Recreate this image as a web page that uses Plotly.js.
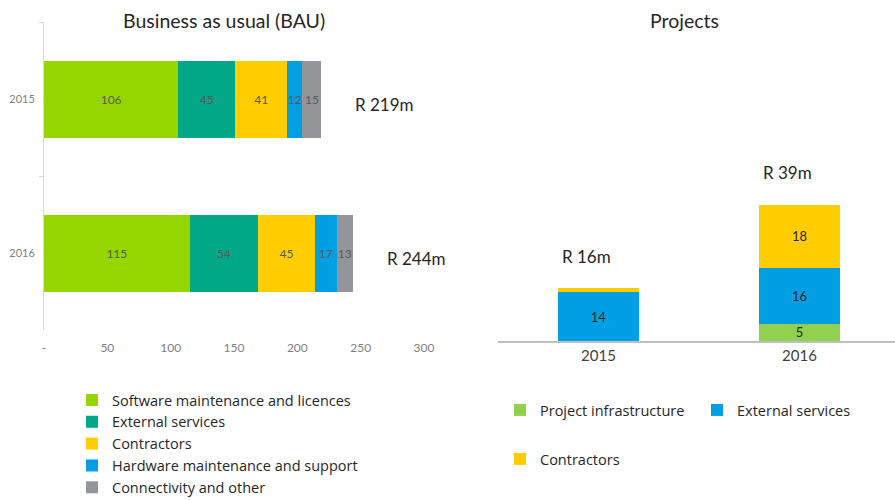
<!DOCTYPE html>
<html>
<head>
<meta charset="utf-8">
<script src="https://cdn.plot.ly/plotly-3.0.1.min.js"></script>
<style>
  html, body { margin: 0; padding: 0; background: #fff; }
  #chart { width: 895px; height: 500px; }
</style>
</head>
<body>
<div id="chart"></div>
<script>
// BAU (left, horizontal stacked bars)
var bauYears = ["2015", "2016"];
var bauSoftware = [106, 115];
var bauExternal = [45, 54];
var bauContractors = [41, 45];
var bauHardware = [12, 17];
var bauConnectivity = [15, 13];
var bauTotals = [219, 244];
var bauTicks = [0, 50, 100, 150, 200, 250, 300];
var bauTickText = ["-", "50", "100", "150", "200", "250", "300"];

// Projects (right, vertical stacked bars)
var projYears = ["2015", "2016"];
var projInfra = [0, 5];
var projExternal = [14, 16];
var projContractors = [1.1, 18];
var projTotals = [16, 39];

var FONT = "Lato, 'Open Sans', sans-serif";
var LEGEND_FONT = "'Open Sans', Lato, sans-serif";

function labels(vals) {
    return vals.map(function (v) { return v >= 2 ? String(v) : ""; });
}

function bauTrace(name, vals, color) {
    return {
        type: "bar", orientation: "h", name: name,
        y: bauYears, x: vals, width: 0.5,
        marker: { color: color },
        text: labels(vals), textposition: "inside", insidetextanchor: "middle",
        textangle: 0, constraintext: "none",
        textfont: { family: FONT, size: 12, color: "#595959" },
        xaxis: "x", yaxis: "y", hoverinfo: "none"
    };
}

function projTrace(name, vals, color, legend) {
    return {
        type: "bar", name: name,
        x: projYears, y: vals, width: 0.4,
        marker: { color: color },
        text: labels(vals), textposition: "inside", insidetextanchor: "middle",
        textangle: 0, constraintext: "none",
        textfont: { family: FONT, size: 13, color: "#262626" },
        xaxis: "x2", yaxis: "y2", legend: legend, hoverinfo: "none"
    };
}

var data = [
    bauTrace("Software maintenance and licences", bauSoftware, "#96D600"),
    bauTrace("External services", bauExternal, "#00A887"),
    bauTrace("Contractors", bauContractors, "#FFCD00"),
    bauTrace("Hardware maintenance and support", bauHardware, "#009FE3"),
    bauTrace("Connectivity and other", bauConnectivity, "#939598"),
    projTrace("Project infrastructure", projInfra, "#92D050", "legend2"),
    projTrace("External services", projExternal, "#009FE3", "legend2"),
    projTrace("Contractors", projContractors, "#FFCD00", "legend3")
];

var annotations = [
    { text: "Business as usual (BAU)", xref: "paper", yref: "paper", x: 224 / 895, y: 1 - 20 / 500,
      xanchor: "center", yanchor: "middle",
      showarrow: false, font: { family: FONT, size: 19.5, color: "#262626" } },
    { text: "Projects", xref: "paper", yref: "paper", x: 684 / 895, y: 1 - 20 / 500,
      xanchor: "center", yanchor: "middle",
      showarrow: false, font: { family: FONT, size: 19.5, color: "#262626" } }
];
// totals next to / above the stacks (category index used for position)
bauTotals.forEach(function (t, i) {
    annotations.push({
        text: "R " + t + "m", xref: "x", yref: "y", x: t + 25, y: i,
        xanchor: "left", yanchor: "middle", yshift: -5, showarrow: false,
        font: { family: FONT, size: 17, color: "#262626" }
    });
});
projTotals.forEach(function (t, i) {
    var top = projInfra[i] + projExternal[i] + projContractors[i];
    annotations.push({
        text: "R " + t + "m", xref: "x2", yref: "y2", x: i, y: top,
        xanchor: "center", yanchor: "bottom", yshift: 19, xshift: -12, showarrow: false,
        font: { family: FONT, size: 17, color: "#262626" }
    });
});

var layout = {
    width: 895, height: 500,
    margin: { l: 0, r: 0, t: 0, b: 0, autoexpand: false },
    paper_bgcolor: "#ffffff", plot_bgcolor: "#ffffff",
    font: { family: FONT },
    barmode: "stack",
    xaxis: {
        domain: [44 / 895, 424 / 895], range: [0, 300],
        tickvals: bauTicks, ticktext: bauTickText,
        showgrid: false, zeroline: false, showline: false, ticks: "",
        tickfont: { family: FONT, size: 12, color: "#7f7f7f" },
        ticklabelstandoff: 9
    },
    yaxis: {
        domain: [1 - 330 / 500, 1 - 22 / 500], type: "category",
        range: [1.5, -0.5], autorange: false,
        showgrid: false, zeroline: false,
        showline: true, linecolor: "#d9d9d9", linewidth: 1,
        ticks: "outside", tickson: "boundaries", ticklen: 4, tickcolor: "#d9d9d9",
        tickfont: { family: FONT, size: 11, color: "#7f7f7f" },
        ticklabelstandoff: 6
    },
    xaxis2: {
        domain: [498 / 895, 1], range: [-0.5, 1.475], type: "category",
        anchor: "y2",
        showgrid: false, zeroline: false,
        showline: true, linecolor: "#bfbfbf", linewidth: 1.5, ticks: "",
        tickfont: { family: FONT, size: 15, color: "#404040" }
    },
    yaxis2: {
        domain: [1 - 341 / 500, 1 - 40 / 500], range: [0, 86],
        anchor: "x2", visible: false
    },
    showlegend: true,
    legend: {
        x: 72 / 895, y: 1 - 384 / 500, xanchor: "left", yanchor: "top",
        orientation: "v", traceorder: "normal",
        font: { family: LEGEND_FONT, size: 14.5, color: "#262626" },
        bgcolor: "rgba(0,0,0,0)", tracegroupgap: 0
    },
    legend2: {
        x: 500 / 895, y: 1 - 410 / 500, xanchor: "left", yanchor: "middle",
        orientation: "h", traceorder: "normal",
        entrywidth: 152, entrywidthmode: "pixels",
        font: { family: LEGEND_FONT, size: 14.5, color: "#262626" },
        bgcolor: "rgba(0,0,0,0)"
    },
    legend3: {
        x: 500 / 895, y: 1 - 459 / 500, xanchor: "left", yanchor: "middle",
        orientation: "h",
        font: { family: LEGEND_FONT, size: 14.5, color: "#262626" },
        bgcolor: "rgba(0,0,0,0)"
    },
    annotations: annotations
};

Plotly.newPlot("chart", data, layout, { displayModeBar: false, staticPlot: true });
</script>
</body>
</html>
